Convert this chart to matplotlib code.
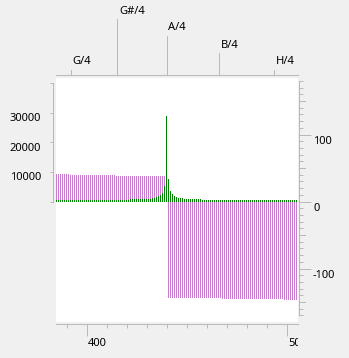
import matplotlib
matplotlib.use('Agg')
import matplotlib.pyplot as plt
import matplotlib.transforms as mtransforms
from matplotlib.lines import Line2D
from matplotlib.ticker import FixedLocator, NullFormatter

# ---------------- data ----------------
freqs = list(range(385, 506))

amplitude = [
    500, 500, 500, 500, 500, 500, 500, 500, 500, 500,      # 385-394
    500, 500, 500, 500, 500, 500, 500, 500, 500, 500,      # 395-404
    500, 500, 500, 500, 500, 500, 500, 500, 500, 500,      # 405-414
    500, 500, 500, 500, 500, 500, 500,                     # 415-421
    800, 800, 800, 800, 800, 800, 800, 800, 800,           # 422-430
    850, 950, 1050, 1270, 1500, 1830, 2170, 2730, 5170,    # 431-439
    28800,                                                 # 440
    7500, 3600, 2500, 1830, 1400, 1270, 1270, 1270,        # 441-448
    930, 930, 930, 930, 930, 930, 930, 930, 930,           # 449-457
    500, 500, 500, 500, 500, 500, 500, 500, 500, 500,      # 458-467
    500, 500, 500, 500, 500, 500, 500, 500, 500, 500,      # 468-477
    500, 500, 500, 500, 500, 500, 500, 500, 500, 500,      # 478-487
    500, 500, 500, 500, 500, 500, 500, 500, 500, 500,      # 488-497
    500, 500, 500, 500, 500, 500, 500, 500,                # 498-505
]

phase = [
    41, 41, 41, 41, 41, 41, 41,                                        # 385-391
    39.5, 39.5, 39.5, 39.5, 39.5, 39.5, 39.5, 39.5, 39.5, 39.5,        # 392-401
    39.5, 39.5, 39.5, 39.5, 39.5, 39.5, 39.5, 39.5, 39.5, 39.5,        # 402-411
    39.5, 39.5, 39.5,                                                  # 412-414
    38, 38, 38, 38, 38, 38, 38, 38, 38, 38,                            # 415-424
    38, 38, 38, 38, 38, 38, 38, 38, 38, 38,                            # 425-434
    38, 38, 38, 38, 38, 38,                                            # 435-440
    -143.5, -143.5, -143.5, -143.5, -143.5, -143.5, -143.5, -143.5,    # 441-448
    -143.5, -143.5, -143.5, -143.5, -143.5, -143.5, -143.5, -143.5,    # 449-456
    -143.5, -143.5, -143.5, -143.5, -143.5, -143.5, -143.5, -143.5,    # 457-464
    -143.5, -143.5, -143.5,                                            # 465-467
    -145, -145, -145, -145, -145, -145, -145, -145, -145, -145,        # 468-477
    -145, -145, -145, -145, -145, -145, -145, -145, -145, -145,        # 478-487
    -145, -145, -145, -145, -145, -145, -145, -145, -145, -145,        # 488-497
    -145,                                                              # 498
    -146.5, -146.5, -146.5, -146.5, -146.5, -146.5, -146.5,            # 499-505
]

note_names = ['G/4', 'G#/4', 'A/4', 'B/4', 'H/4']
note_freqs = [392.00, 415.30, 440.00, 466.16, 493.88]
note_rows = [0, 3, 2, 1, 0]

amp_ticks = [0, 10000, 20000, 30000, 40000]
amp_labels = ['', '10000', '20000', '30000', '']
phase_major = [-100, 0, 100]
phase_labels = ['-100', '0', '100']
phase_minor = list(range(-170, 181, 10))
phase_mid = [-150, -50, 50, 150]
freq_major = [400, 500]
freq_labels = ['400', '500']
freq_minor = list(range(390, 506, 10))

# ---------------- layout (pixels) ----------------
DPI = 100
W, H = 349, 358
AX_L, AX_R, AX_T, AX_B = 56, 298, 78, 322
AXW, AXH = AX_R - AX_L, AX_B - AX_T
ZERO_ROW = 201.5
PX_PER_HZ = 2.0
PX_PER_10K = 29.6
PX_PER_100DEG = 67.0
PT = 72.0 / DPI

GREY = '#b9b9b9'
TXT = '#000000'
MAG = '#c97bd0'
GRN = '#008000'
FONT = dict(family='Noto Sans', size=8, color=TXT)

fig = plt.figure(figsize=(W / DPI, H / DPI), dpi=DPI, facecolor='#f0f0f0')
ax = fig.add_axes([AX_L / W, 1 - AX_B / H, AXW / W, AXH / H], facecolor='white')
ax_amp = ax.twinx()

x0 = 400 - (86.5 - AX_L) / PX_PER_HZ
ax.set_xlim(x0, x0 + AXW / PX_PER_HZ)
below = AX_B - ZERO_ROW
above = ZERO_ROW - AX_T
ax.set_ylim(-below * 100 / PX_PER_100DEG, above * 100 / PX_PER_100DEG)
ax_amp.set_ylim(-below * 10000 / PX_PER_10K, above * 10000 / PX_PER_10K)

# bars (1 px wide)
BAR_W = 1 / PX_PER_HZ
ax.bar(freqs, phase, width=BAR_W, color=MAG, linewidth=0)
ax_amp.bar(freqs, amplitude, width=BAR_W, color=GRN, linewidth=0)

def off(dx, dy):
    return mtransforms.ScaledTranslation(dx / DPI, dy / DPI, fig.dpi_scale_trans)

# --- spines
ax.spines['left'].set_visible(False)
for s in ['right', 'top', 'bottom']:
    ax_amp.spines[s].set_visible(False)
for sp in list(ax.spines.values()) + list(ax_amp.spines.values()):
    sp.set_color(GREY)
    sp.set_linewidth(1 * PT)

ax.spines['right'].set_position(('outward', 1 * PT))
ax.spines['right'].set_bounds(-170, 180)
ax.spines['bottom'].set_position(('outward', 2 * PT))
ax.spines['top'].set_position(('outward', 3 * PT))
ax_amp.spines['left'].set_position(('outward', 3 * PT))
ax_amp.spines['left'].set_bounds(0, 40000)

# --- x ticks (bottom)
ax.xaxis.set_major_locator(FixedLocator(freq_major))
ax.xaxis.set_minor_locator(FixedLocator(freq_minor))
ax.xaxis.set_major_formatter(NullFormatter())
ax.tick_params(axis='x', which='major', direction='out', length=12 * PT, width=1 * PT,
               color=GREY, bottom=True, top=False, labelbottom=False)
ax.tick_params(axis='x', which='minor', direction='out', length=3.5 * PT, width=1 * PT,
               color=GREY, bottom=True, top=False)

# --- phase ticks (right)
ax.yaxis.set_ticks_position('right')
ax.yaxis.set_major_locator(FixedLocator(phase_major))
ax.yaxis.set_minor_locator(FixedLocator(phase_minor))
ax.yaxis.set_major_formatter(NullFormatter())
ax.tick_params(axis='y', which='major', direction='out', length=12 * PT, width=1 * PT,
               color=GREY, right=True, left=False, labelright=False, labelleft=False)
ax.tick_params(axis='y', which='minor', direction='out', length=3.5 * PT, width=1 * PT,
               color=GREY, right=True, left=False)
tr_r = mtransforms.blended_transform_factory(ax.transAxes, ax.transData)
for v in phase_mid:
    ax.add_line(Line2D([1 + 1 / AXW, 1 + 7 / AXW], [v, v], transform=tr_r, color=GREY,
                       linewidth=1 * PT, clip_on=False))

# --- amplitude ticks (left)
ax_amp.yaxis.set_ticks_position('left')
ax_amp.yaxis.set_major_locator(FixedLocator(amp_ticks))
ax_amp.yaxis.set_major_formatter(NullFormatter())
ax_amp.tick_params(axis='y', which='major', direction='out', length=3 * PT, width=1 * PT,
                   color=GREY, left=True, right=False, labelleft=False, labelright=False)
ax_amp.tick_params(axis='y', which='minor', left=False, right=False)

# --- labels
tr_l = mtransforms.blended_transform_factory(ax_amp.transAxes, ax_amp.transData)
for v, lab in zip(amp_ticks, amp_labels):
    if lab:
        ax_amp.text(0, v, lab, transform=tr_l + off(-14.7, -0.5), ha='right', va='top', **FONT)

for v, lab in zip(phase_major, phase_labels):
    ax.text(1, v, lab, transform=tr_r + off(15, -1.8), ha='left', va='top', **FONT)

tr_b = mtransforms.blended_transform_factory(ax.transData, ax.transAxes)
clip = mtransforms.TransformedBbox(mtransforms.Bbox([[-1, -1], [1, 2]]), ax.transAxes)
for v, lab in zip(freq_major, freq_labels):
    t = ax.text(v, 0, lab, transform=tr_b + off(1.5, -16), ha='left', va='top', **FONT)
    t.set_clip_on(True)
    t.set_clip_path(None)
    t.set_clip_box(clip)

# --- note markers (top)
for name, f, row in zip(note_names, note_freqs, note_rows):
    L = 5 + 17 * row
    ax.add_line(Line2D([f, f], [1 + 3 / AXH, 1 + (3 + L) / AXH], transform=tr_b, color=GREY,
                       linewidth=1 * PT, clip_on=False))
    ax.text(f, 1, name, transform=tr_b + off(2, 3 + L + 5.5), ha='left', va='baseline', **FONT)

fig.savefig('out.png', dpi=DPI, facecolor=fig.get_facecolor())
